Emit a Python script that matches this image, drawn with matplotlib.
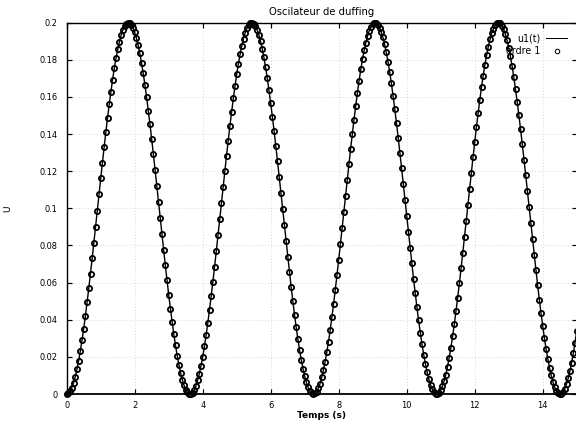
import numpy as np
import matplotlib
matplotlib.use("Agg")
import matplotlib.pyplot as plt
from matplotlib.ticker import FuncFormatter

# pas de temps entre deux echantillons (s)
t_step = 0.05

# reponse u1(t), un echantillon tous les t_step
u1 = [
    0.0000, 0.0004, 0.0015, 0.0034, 0.0059, 0.0092, 0.0132, 0.0178, 0.0231, 0.0289,
    0.0352, 0.0420, 0.0493, 0.0570, 0.0649, 0.0732, 0.0816, 0.0902, 0.0988, 0.1075,
    0.1161, 0.1245, 0.1328, 0.1409, 0.1486, 0.1560, 0.1629, 0.1694, 0.1754, 0.1808,
    0.1856, 0.1897, 0.1932, 0.1960, 0.1981, 0.1994, 0.2000,
    0.1998, 0.1989, 0.1972, 0.1948, 0.1917, 0.1880, 0.1835, 0.1784, 0.1728, 0.1666,
    0.1599, 0.1527, 0.1452, 0.1373, 0.1291, 0.1208, 0.1122, 0.1036, 0.0949, 0.0863,
    0.0778, 0.0694, 0.0613, 0.0535, 0.0460, 0.0389, 0.0323, 0.0262, 0.0206, 0.0157,
    0.0113, 0.0077, 0.0047, 0.0024, 0.0009, 0.0001,
    0.0001, 0.0008, 0.0022, 0.0044, 0.0073, 0.0109, 0.0152, 0.0201, 0.0256, 0.0316,
    0.0382, 0.0453, 0.0527, 0.0605, 0.0686, 0.0769, 0.0854, 0.0940, 0.1027, 0.1113,
    0.1199, 0.1283, 0.1365, 0.1444, 0.1520, 0.1592, 0.1659, 0.1722, 0.1779, 0.1830,
    0.1875, 0.1914, 0.1946, 0.1970, 0.1987, 0.1997,
    0.2000, 0.1995, 0.1982, 0.1963, 0.1935, 0.1901, 0.1861, 0.1813, 0.1760, 0.1701,
    0.1636, 0.1567, 0.1494, 0.1417, 0.1337, 0.1254, 0.1169, 0.1084, 0.0997, 0.0911,
    0.0825, 0.0740, 0.0658, 0.0578, 0.0501, 0.0428, 0.0359, 0.0295, 0.0236, 0.0183,
    0.0136, 0.0096, 0.0062, 0.0036, 0.0017, 0.0005, 0.0000,
    0.0003, 0.0013, 0.0031, 0.0056, 0.0089, 0.0128, 0.0173, 0.0225, 0.0282, 0.0345,
    0.0413, 0.0485, 0.0561, 0.0641, 0.0723, 0.0807, 0.0893, 0.0979, 0.1066, 0.1152,
    0.1237, 0.1320, 0.1400, 0.1478, 0.1552, 0.1622, 0.1688, 0.1748, 0.1803, 0.1851,
    0.1893, 0.1929, 0.1957, 0.1979, 0.1993, 0.1999,
    0.1999, 0.1990, 0.1974, 0.1951, 0.1921, 0.1884, 0.1840, 0.1790, 0.1734, 0.1673,
    0.1606, 0.1535, 0.1460, 0.1381, 0.1300, 0.1216, 0.1131, 0.1045, 0.0958, 0.0872,
    0.0787, 0.0703, 0.0622, 0.0543, 0.0468, 0.0396, 0.0330, 0.0268, 0.0212, 0.0162,
    0.0118, 0.0080, 0.0050, 0.0026, 0.0010, 0.0002,
    0.0000, 0.0007, 0.0021, 0.0042, 0.0070, 0.0105, 0.0147, 0.0196, 0.0250, 0.0310,
    0.0375, 0.0445, 0.0519, 0.0597, 0.0677, 0.0760, 0.0845, 0.0931, 0.1018, 0.1104,
    0.1190, 0.1274, 0.1356, 0.1436, 0.1512, 0.1584, 0.1652, 0.1715, 0.1773, 0.1825,
    0.1871, 0.1910, 0.1943, 0.1968, 0.1986, 0.1997,
    0.2000, 0.1996, 0.1984, 0.1965, 0.1939, 0.1905, 0.1865, 0.1818, 0.1766, 0.1707,
    0.1643, 0.1575, 0.1502, 0.1425, 0.1345, 0.1263, 0.1178, 0.1093, 0.1006, 0.0920,
    0.0834, 0.0749, 0.0666, 0.0586, 0.0509, 0.0435, 0.0366, 0.0301, 0.0242, 0.0189,
    0.0141, 0.0100, 0.0066, 0.0038, 0.0018, 0.0005, 0.0000,
    0.0002, 0.0012, 0.0029, 0.0053, 0.0085, 0.0123, 0.0168, 0.0219, 0.0276, 0.0339,
]

x_ticks = [0, 2, 4, 6, 8, 10, 12, 14]
y_ticks = [0, 0.02, 0.04, 0.06, 0.08, 0.1, 0.12, 0.14, 0.16, 0.18, 0.2]
x_range = [0, 15]
y_range = [0, 0.2]

temps = np.arange(len(u1)) * t_step

fig = plt.figure(figsize=(8, 428 / 72), dpi=72)
ax = fig.add_axes([66.7 / 576, 34 / 428, 510 / 576, 371.3 / 428])

ax.plot(temps, u1, color="black", lw=1.4, label="u1(t)", clip_on=False, zorder=3)
ax.plot(temps, u1, ls="none", marker="o", ms=5.2, mfc="none", mec="black",
        mew=1.8, label="ordre 1", clip_on=False, zorder=4)

ax.set_xlim(x_range)
ax.set_ylim(y_range)
ax.set_xticks(x_ticks)
ax.set_yticks(y_ticks)
fmt = FuncFormatter(lambda v, pos: "%g" % v)
ax.xaxis.set_major_formatter(fmt)
ax.yaxis.set_major_formatter(fmt)

ax.grid(True, color="#9a9a9a", linestyle=(0, (1, 4)), linewidth=0.6)
ax.set_axisbelow(True)
ax.tick_params(direction="in", top=True, right=True, length=5, width=1.2,
               labelsize=8.3, colors="black")
ax.tick_params(axis="x", pad=6.5)
ax.tick_params(axis="y", pad=9)
for side, sp in ax.spines.items():
    sp.set_linewidth(1.8 if side == "bottom" else 1.4)
    sp.set_color("black")

ax.set_title("Oscilateur de duffing", fontsize=10, pad=7.5)
ax.set_xlabel("Temps (s)", fontsize=9, fontweight="bold")
ax.xaxis.set_label_coords(0.5, -0.046)
ax.set_ylabel("U", fontsize=9)
ax.yaxis.set_label_coords(-0.106, 0.5)

leg = ax.legend(loc="upper right", bbox_to_anchor=(0.981, 0.972), frameon=False,
                markerfirst=False, numpoints=1, fontsize=9.5, handlelength=2.2,
                handletextpad=0.6, labelspacing=0.35, borderpad=0, borderaxespad=0)
for h in leg.legend_handles:
    h.set_linewidth(1.0)
    h.set_markersize(4.5)
    h.set_markeredgewidth(1.0)

fig.savefig("out.png", dpi=72)
